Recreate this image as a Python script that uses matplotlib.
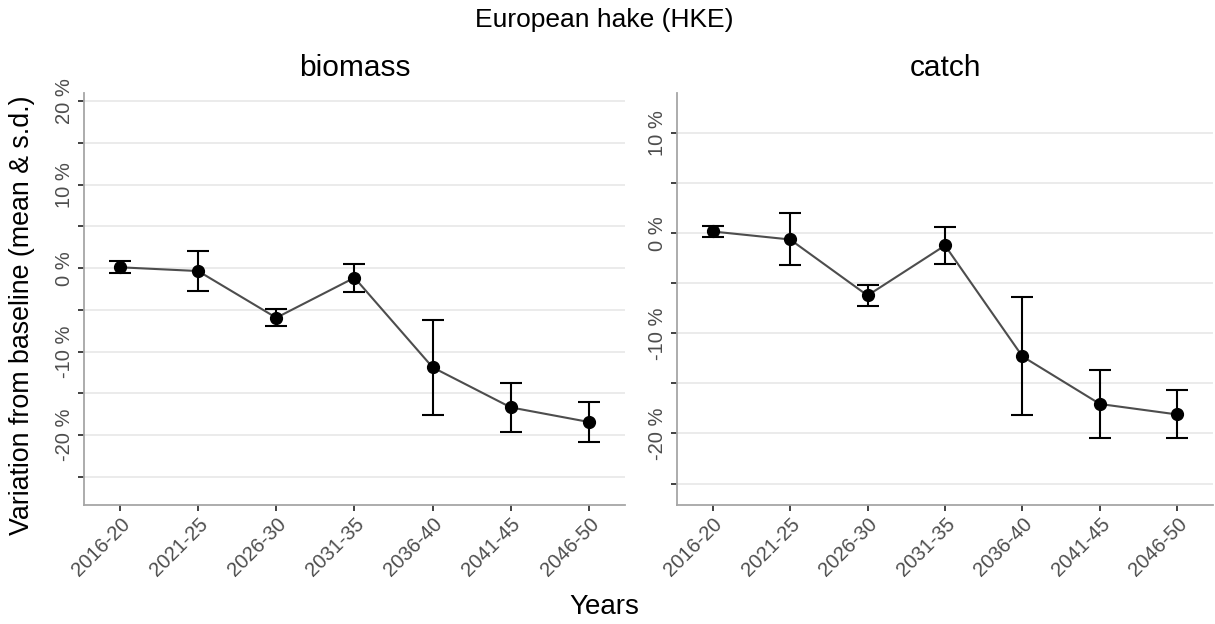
import numpy as np
import matplotlib
matplotlib.use("Agg")
import matplotlib.pyplot as plt
from matplotlib.ticker import MultipleLocator, FuncFormatter

plt.rcParams['font.family'] = ['Liberation Sans', 'DejaVu Sans']

periods = ['2016-20', '2021-25', '2026-30', '2031-35', '2036-40', '2041-45', '2046-50']

# biomass: mean and s.d. (percent change from baseline)
biomass_mean = [0.1, -0.35, -5.95, -1.15, -11.9, -16.7, -18.45]
biomass_sd = [0.7, 2.35, 1.0, 1.68, 5.7, 2.9, 2.35]

# catch: mean and s.d.
catch_mean = [0.2, -0.6, -6.2, -1.2, -12.3, -17.05, -18.1]
catch_sd = [0.52, 2.6, 1.03, 1.83, 5.9, 3.37, 2.4]

panels = [
    ('biomass', biomass_mean, biomass_sd, [0.0691, 0.1907, 0.4453, 0.6603], (-28.4, 21.0)),
    ('catch', catch_mean, catch_sd, [0.5572, 0.1907, 0.4412, 0.6603], (-27.15, 14.05)),
]

fig = plt.figure(figsize=(12.15, 6.24), dpi=100)

pct = FuncFormatter(lambda v, p: '%d %%' % round(v) if round(v) % 10 == 0 else '')

for name, mean, sd, rect, ylim in panels:
    ax = fig.add_axes(rect)
    x = np.arange(len(periods))
    ax.plot(x, mean, '-', color='#4D4D4D', lw=1.5, zorder=2)
    ax.errorbar(x, mean, yerr=sd, fmt='none', ecolor='black', elinewidth=1.5,
                capsize=8, capthick=1.5, zorder=3)
    ax.plot(x, mean, 'o', color='black', ms=8.5, zorder=4)

    ax.set_xlim(-0.46, len(periods) - 1 + 0.46)
    ax.set_ylim(*ylim)
    ax.yaxis.set_major_locator(MultipleLocator(5))
    ax.yaxis.set_major_formatter(pct)
    ax.grid(axis='y', color='#E6E6E6', lw=1.1)
    ax.set_axisbelow(True)

    ax.set_xticks(x)
    ax.set_xticklabels(periods, rotation=45, ha='right', rotation_mode='anchor',
                       fontsize=14.5, color='#4D4D4D')
    for lab in ax.get_yticklabels():
        lab.set_rotation(90)
        lab.set_va('center')
        lab.set_fontsize(14.5)
        lab.set_color('#4D4D4D')
    ax.tick_params(axis='both', length=4, width=1.3, color='#333333', pad=3)

    for s in ['top', 'right']:
        ax.spines[s].set_visible(False)
    for s in ['left', 'bottom']:
        ax.spines[s].set_color('#A6A6A6')
        ax.spines[s].set_linewidth(1.3)

    ax.set_title(name, fontsize=21.5, pad=12)

fig.text(0.497, 0.968, 'European hake (HKE)', ha='center', va='center', fontsize=19)
fig.text(0.018, 0.494, 'Variation from baseline (mean & s.d.)', ha='center', va='center',
         rotation=90, fontsize=19.3)
fig.text(0.497, 0.027, 'Years', ha='center', va='center', fontsize=20)

fig.savefig('out.png', dpi=100)
